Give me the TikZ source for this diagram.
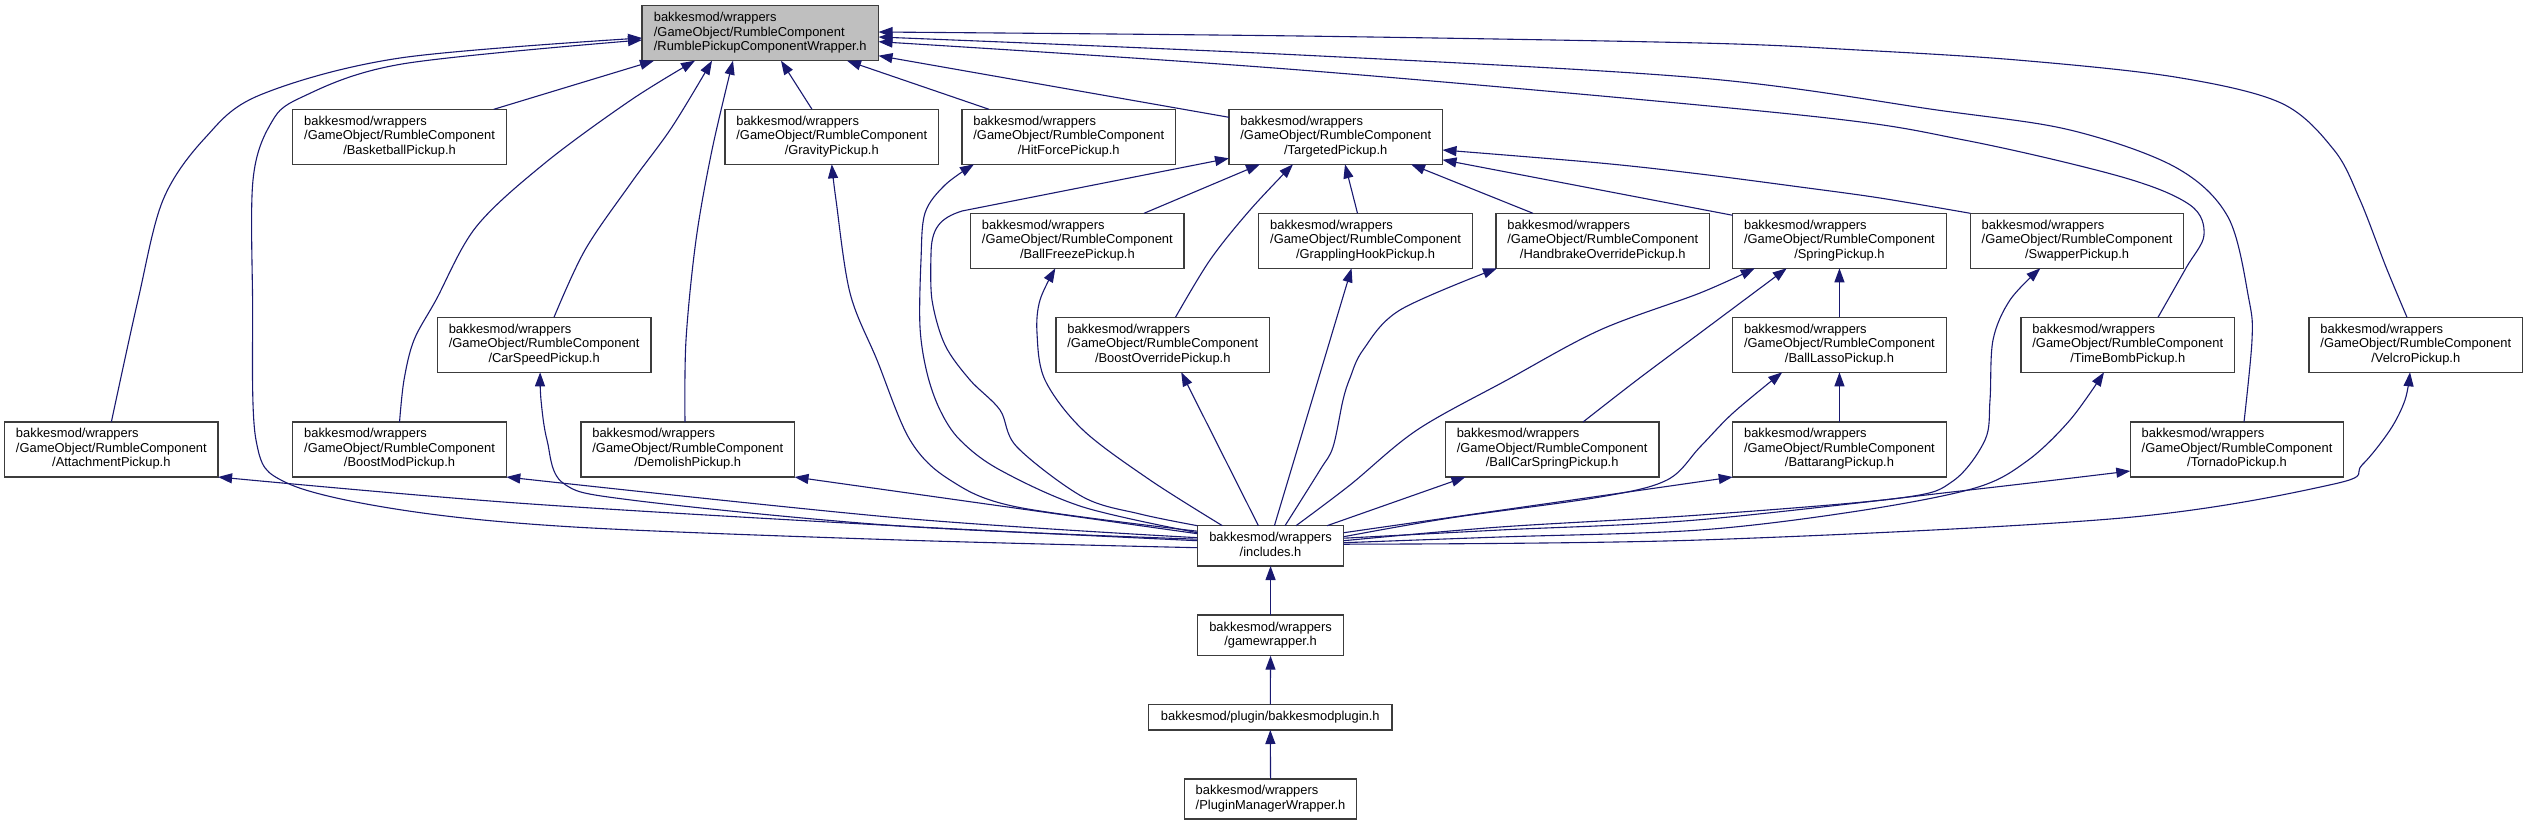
\documentclass[tikz,border=0pt]{standalone}
\usepackage{fontspec}
\setmainfont{Liberation Sans}
\usetikzlibrary{arrows.meta}
\definecolor{edgec}{HTML}{191970}
\definecolor{bordc}{HTML}{3C3C3C}
\definecolor{mainfill}{HTML}{BFBFBF}
\newcommand\nodefont{\fontsize{12.9pt}{14.5pt}\selectfont}
\newcommand\pk[1]{\begin{tabular}{@{}l@{}}bakkesmod/wrappers\\/GameObject/RumbleComponent\\\multicolumn{1}{@{}c@{}}{/#1}\end{tabular}}
\newcommand\tw[2]{\begin{tabular}{@{}l@{}}#1\\\multicolumn{1}{@{}c@{}}{#2}\end{tabular}}
\begin{document}
\begin{tikzpicture}[x=1pt,y=-1pt,
 nd/.style={draw=bordc, line width=1.3pt, fill=white, anchor=north west, inner sep=0pt, outer sep=0pt, minimum width=213.5pt, minimum height=55pt, font=\nodefont},
 edge/.style={draw=edgec, line width=1.1pt, -{Triangle[length=14pt,width=10pt]}},
 sm/.style={smooth, tension=0.55}]
\fill[white] (0,0) rectangle (2528,825);
\useasboundingbox (0,0) rectangle (2528,825);

% nodes
\node[nd, fill=mainfill, minimum width=236.5pt] (main) at (642,5.7) {\pk{RumblePickupComponentWrapper.h}};
\node[nd] (basket) at (292.8,109.3) {\pk{BasketballPickup.h}};
\node[nd] (gravity) at (725,109.3) {\pk{GravityPickup.h}};
\node[nd] (hitforce) at (962,109.3) {\pk{HitForcePickup.h}};
\node[nd] (targeted) at (1229,109.3) {\pk{TargetedPickup.h}};
\node[nd] (ballfreeze) at (970.6,213.3) {\pk{BallFreezePickup.h}};
\node[nd] (grappling) at (1258.8,213.3) {\pk{GrapplingHookPickup.h}};
\node[nd] (handbrake) at (1496,213.3) {\pk{HandbrakeOverridePickup.h}};
\node[nd] (spring) at (1732.7,213.3) {\pk{SpringPickup.h}};
\node[nd] (swapper) at (1970.3,213.3) {\pk{SwapperPickup.h}};
\node[nd] (carspeed) at (437.4,317.3) {\pk{CarSpeedPickup.h}};
\node[nd] (boostover) at (1056,317.3) {\pk{BoostOverridePickup.h}};
\node[nd] (balllasso) at (1732.7,317.3) {\pk{BallLassoPickup.h}};
\node[nd] (timebomb) at (2021,317.3) {\pk{TimeBombPickup.h}};
\node[nd] (velcro) at (2309,317.3) {\pk{VelcroPickup.h}};
\node[nd] (attach) at (4.6,422) {\pk{AttachmentPickup.h}};
\node[nd] (boostmod) at (292.8,422) {\pk{BoostModPickup.h}};
\node[nd] (demolish) at (581,422) {\pk{DemolishPickup.h}};
\node[nd] (ballcar) at (1445.4,422) {\pk{BallCarSpringPickup.h}};
\node[nd] (battarang) at (1732.7,422) {\pk{BattarangPickup.h}};
\node[nd] (tornado) at (2130.3,422) {\pk{TornadoPickup.h}};
\node[nd, minimum width=146.3pt, minimum height=40.3pt] (includes) at (1197.4,525.7) {\tw{bakkesmod/wrappers}{/includes.h}};
\node[nd, minimum width=146.3pt, minimum height=40.7pt] (gamew) at (1197.4,615) {\tw{bakkesmod/wrappers}{/gamewrapper.h}};
\node[nd, minimum width=243.4pt, minimum height=25.7pt] (plugin) at (1148.6,704.3) {bakkesmod/plugin/bakkesmodplugin.h};
\node[nd, minimum width=171.7pt, minimum height=40pt] (pmw) at (1184.7,779) {\tw{bakkesmod/wrappers}{/PluginManagerWrapper.h}};

% edges into main
\draw[edge] plot[sm] coordinates {(attach.north) (138,300) (163,200) (205,138) (260,95) (400,58) ([yshift=-32.3pt]main.north west)};
\draw[edge] plot[sm] coordinates {([yshift=-22pt]includes.north west) (900,540) (574,527) (402,510) (287,483) (256,440) (252.6,300) (253,180) (270,125) (300,98) (402,64) ([yshift=-34.3pt]main.north west)};
\draw[edge] ([xshift=201pt]basket.north west) -- ([xshift=12pt]main.south west);
\draw[edge] plot[sm] coordinates {(boostmod.north) (404,380) (414,340) (436,300) (476,227) (545,163) (631,100) ([xshift=53pt]main.south west)};
\draw[edge] plot[sm] coordinates {([xshift=116.6pt]carspeed.north west) (585,250) (631,183) (672,127) ([xshift=70pt]main.south west)};
\draw[edge] plot[sm] coordinates {([xshift=104pt]demolish.north west) (686,340) (696,240) (712,150) ([xshift=91pt]main.south west)};
\draw[edge] ([xshift=87pt]gravity.north west) -- ([xshift=139pt]main.south west);
\draw[edge] ([xshift=27pt]hitforce.north west) -- ([xshift=205pt]main.south west);
\draw[edge] ([yshift=-8pt]targeted.north west) -- ([yshift=5pt]main.south east);
\draw[edge] plot[sm] coordinates {([xshift=137pt]timebomb.north west) (2186,268) (2204,235) (2190,205) (2122,177) (1964,140) (1800,115) (1300,70) ([yshift=-36pt]main.north east)};
\draw[edge] plot[sm] coordinates {([xshift=113.7pt]tornado.north west) (2252,340) (2249,300) (2228,217) (2175,167) (2070,130) (1937,110) (1700,78) (1300,55) ([yshift=-31.3pt]main.north east)};
\draw[edge] plot[sm] coordinates {([xshift=98pt]velcro.north west) (2386,267) (2360,200) (2334,150) (2281,103) (2175,77) (2017,60) (1858,50) (1700,43) (1300,36) ([yshift=-26.3pt]main.north east)};

% edges into targeted
\draw[edge] ([xshift=173.4pt]ballfreeze.north west) -- ([xshift=31pt]targeted.south west);
\draw[edge] plot[sm] coordinates {([xshift=119.5pt]boostover.north west) (1210,260) (1250,210) ([xshift=64pt]targeted.south west)};
\draw[edge] ([xshift=98.7pt]grappling.north west) -- ([xshift=116pt]targeted.south west);
\draw[edge] ([xshift=37pt]handbrake.north west) -- ([xshift=182pt]targeted.south west);
\draw[edge] ([yshift=-2pt]spring.north west) -- ([yshift=4.5pt]targeted.south east);
\draw[edge] plot[sm] coordinates {(swapper.north west) (1880,198) (1800,187) (1700,174) (1600,163) ([yshift=14.3pt]targeted.south east)};

% edges into spring / balllasso
\draw[edge] plot[sm] coordinates {([xshift=137.6pt]ballcar.north west) (1637,380) (1700,333) ([xshift=54pt]spring.south west)};
\draw[edge] (balllasso.north) -- (spring.south);
\draw[edge] (battarang.north) -- (balllasso.south);

% edges from includes
\draw[edge] plot[sm] coordinates {([yshift=-15pt]includes.north west) (900,526) (517,503) (attach.south east)};
\draw[edge] plot[sm] coordinates {([yshift=-12pt]includes.north west) (900,518) (boostmod.south east)};
\draw[edge] ([yshift=-8pt]includes.north west) -- (demolish.south east);
\draw[edge] plot[sm] coordinates {([yshift=-13.5pt]includes.north west) (900,526) (631,500) (563,483) (547,440) (541,400) ([xshift=-4pt]carspeed.south)};
\draw[edge] plot[sm] coordinates {([yshift=-5.5pt]includes.north west) (1017,507) (950,480) (910,440) (877,360) (850,293) (836,200) (gravity.south)};
\draw[edge] plot[sm] coordinates {([yshift=-7pt]includes.north west) (1083,507) (1000,470) (960,440) (940,410) (927,373) (920,327) (921,260) (925,213) (945,185) ([xshift=12pt]hitforce.south west)};
\draw[edge] plot[sm] coordinates {(includes.north west) (1140,514) (1083,497) (1017,447) (1000,410) (970,380) (945,345) (932,300) (931,255)} .. controls (931,228) and (940,218) .. (962,211) -- ([yshift=6pt]targeted.south west);
\draw[edge] plot[sm] coordinates {([xshift=25pt]includes.north west) (1150,480) (1083,430) (1045,380) (1037,333) (1040,300) ([xshift=-22pt]ballfreeze.south)};
\draw[edge] ([xshift=61pt]includes.north west) -- ([xshift=18.5pt]boostover.south);
\draw[edge] ([xshift=77pt]includes.north west) -- ([xshift=-14pt]grappling.south);
\draw[edge] plot[sm] coordinates {([xshift=87.6pt]includes.north west) (1320,470) (1333,447) (1343,400) (1350,378) (1363,350) (1400,310) ([xshift=1pt]handbrake.south west)};
\draw[edge] plot[sm] coordinates {([xshift=98.6pt]includes.north west) (1350,485) (1417,430) (1507,380) (1600,330) (1700,293) ([xshift=22pt]spring.south west)};
\draw[edge] ([xshift=-16.7pt]includes.north east) -- ([xshift=20pt]ballcar.south west);
\draw[edge] plot[sm] coordinates {([yshift=-11pt]includes.north east) (1450,518) (1600,497) (1667,480) (1700,447) (1733,413) ([xshift=49.5pt]balllasso.south west)};
\draw[edge] ([yshift=-7pt]includes.north east) -- (battarang.south west);
\draw[edge] plot[sm] coordinates {([yshift=-15pt]includes.north east) (1500,527) (1700,515) (1900,498) (1953,481) (1985,440) (1990,400) (1993,340) (2010,300) ([xshift=70pt]swapper.south west)};
\draw[edge] plot[sm] coordinates {([yshift=-17pt]includes.north east) (1500,537) (1700,530) (1858,511) (1975,488) (2027,461) (2070,420) ([xshift=83pt]timebomb.south west)};
\draw[edge] plot[sm] coordinates {([yshift=-12.5pt]includes.north east) (1500,530) (1700,519.7) (1974.5,489.4) ([yshift=6pt]tornado.south west)};
\draw[edge] plot[sm] coordinates {([yshift=-18.5pt]includes.north east) (1700,540) (2122,518) (2334,484) (2362,465) (2390,430) (2405,400) ([xshift=101pt]velcro.south west)};

% bottom chain
\draw[edge] (gamew.north) -- (includes.south);
\draw[edge] (plugin.north) -- (gamew.south);
\draw[edge] (pmw.north) -- (plugin.south);
\end{tikzpicture}
\end{document}
